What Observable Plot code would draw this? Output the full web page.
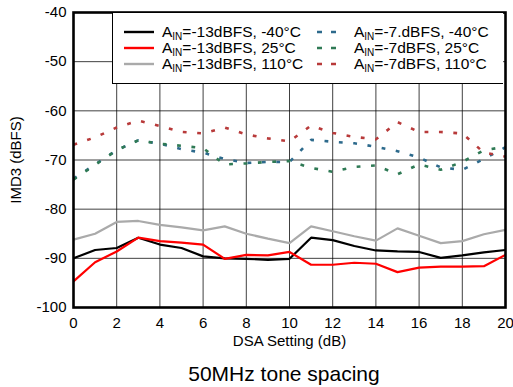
<!DOCTYPE html>
<html><head><meta charset="utf-8">
<script src="https://cdn.jsdelivr.net/npm/d3@7"></script>
<script src="https://cdn.jsdelivr.net/npm/@observablehq/plot@0.6"></script>
<style>
body{margin:0;background:#fff;font-family:"Liberation Sans",Arial,sans-serif;}
#wrap{position:relative;width:513px;height:387px;background:#fff;}
#caption{position:absolute;left:68px;width:432px;top:359px;font-size:21px;line-height:30px;text-align:center;color:#000;}
#legend{position:absolute;left:112px;top:13px;width:391px;height:71px;background:#fff;border-left:1px solid #000;border-bottom:1px solid #000;box-sizing:border-box;}
.item{position:absolute;height:18px;line-height:18px;font-size:15.5px;white-space:nowrap;color:#000;}
.item sub{font-size:10px;vertical-align:-3px;line-height:0;}
.sw{position:absolute;}
</style></head>
<body><div id="wrap"></div>
<script>
// DSA setting (dB)
const dsa = [0,1,2,3,4,5,6,7,8,9,10,11,12,13,14,15,16,17,18,19,20];
// IMD3 (dBFS)
const ain13_m40 = [-90.0,-88.3,-87.9,-85.8,-87.2,-87.9,-89.6,-90.0,-90.1,-90.3,-90.1,-85.8,-86.3,-87.5,-88.4,-88.6,-88.7,-89.9,-89.4,-88.8,-88.3];
const ain13_25  = [-94.7,-90.8,-88.6,-85.8,-86.5,-86.8,-87.2,-90.1,-89.3,-89.4,-88.7,-91.3,-91.3,-90.9,-91.1,-92.8,-91.9,-91.7,-91.7,-91.6,-89.3];
const ain13_110 = [-86.2,-85.0,-82.6,-82.4,-83.2,-83.7,-84.3,-83.5,-85.0,-86.0,-86.9,-83.5,-84.5,-85.5,-86.4,-83.9,-85.4,-86.9,-86.5,-85.1,-84.2];
const ain7_m40  = [-73.8,-70.9,-68.0,-66.0,-66.7,-67.8,-68.5,-69.8,-70.6,-70.4,-70.4,-65.9,-66.3,-66.6,-67.3,-68.2,-69.5,-71.5,-72.0,-69.8,-67.4];
const ain7_25   = [-74.0,-71.0,-68.0,-66.0,-66.7,-67.1,-67.6,-70.9,-70.7,-70.4,-70.2,-71.6,-72.4,-71.4,-71.1,-72.9,-70.9,-72.0,-70.4,-68.0,-67.3];
const ain7_110  = [-66.9,-65.4,-63.4,-62.0,-63.1,-64.3,-64.6,-63.4,-64.8,-65.6,-66.2,-63.0,-64.5,-65.3,-65.8,-62.3,-64.3,-64.3,-64.6,-68.5,-69.3];

const xTicks = [0,2,4,6,8,10,12,14,16,18,20];
const yTicks = [-100,-90,-80,-70,-60,-50,-40];

const seriesNames = ["-13dBFS, -40°C","-13dBFS, 25°C","-13dBFS, 110°C","-7.dBFS, -40°C","-7dBFS, 25°C","-7dBFS, 110°C"];
const seriesValues = [ain13_m40, ain13_25, ain13_110, ain7_m40, ain7_25, ain7_110];
const seriesColors = ["#000000","#ff0000","#aaaaaa","#2d6a8c","#2f7a55","#b83a3a"];
const seriesDashed = [false,false,false,true,true,true];

const lineMarks = seriesValues.map((vals, i) => {
  const rows = dsa.map((d, j) => ({dsa: d, v: vals[j]}));
  return Plot.line(rows, {
    x: "dsa", y: "v", stroke: seriesColors[i],
    strokeWidth: seriesDashed[i] ? 2.6 : 2.2,
    strokeDasharray: seriesDashed[i] ? "3.8,10.6" : null,
    strokeLinecap: "butt", strokeLinejoin: "miter"
  });
});

const chart = Plot.plot({
  width: 513, height: 355,
  marginTop: 12, marginLeft: 73, marginRight: 8, marginBottom: 48,
  style: {fontFamily: '"Liberation Sans", Arial, sans-serif', fontSize: "15px", color: "#000", background: "#fff", overflow: "visible"},
  x: {domain: [0, 20]},
  y: {domain: [-100, -40]},
  marks: [
    Plot.gridX(xTicks, {stroke: "#000", strokeOpacity: 0.75, strokeWidth: 1}),
    Plot.gridY(yTicks, {stroke: "#000", strokeOpacity: 0.75, strokeWidth: 1}),
    Plot.axisX(xTicks, {tickSize: 0, tickPadding: 10, tickFormat: d => String(d), fontSize: 15,
      label: "DSA Setting (dB)", labelAnchor: "center", labelOffset: 38, labelArrow: false}),
    Plot.axisY(yTicks, {tickSize: 0, tickPadding: 7, tickFormat: d => String(d), fontSize: 15,
      label: "IMD3 (dBFS)", labelAnchor: "center", labelOffset: 63, labelArrow: false}),
    ...lineMarks,
    Plot.frame({stroke: "#000", strokeWidth: 2.6})
  ]
});

const wrap = document.getElementById("wrap");
wrap.appendChild(chart);

// legend
const legend = document.createElement("div");
legend.id = "legend";
wrap.appendChild(legend);
const rowTops = [10, 26, 42];
seriesNames.forEach((name, i) => {
  const col = i < 3 ? 0 : 1;
  const row = i % 3;
  const swX = col === 0 ? 11 : 204;
  const swW = col === 0 ? 30 : 22;
  const txtX = col === 0 ? 49 : 241;
  const svgNS = "http://www.w3.org/2000/svg";
  const sw = document.createElementNS(svgNS, "svg");
  sw.setAttribute("class", "sw");
  sw.setAttribute("width", swW);
  sw.setAttribute("height", 6);
  sw.style.left = swX + "px";
  sw.style.top = (rowTops[row] + 6) + "px";
  const ln = document.createElementNS(svgNS, "line");
  ln.setAttribute("x1", 0); ln.setAttribute("x2", swW);
  ln.setAttribute("y1", 3); ln.setAttribute("y2", 3);
  ln.setAttribute("stroke", seriesColors[i]);
  ln.setAttribute("stroke-width", seriesDashed[i] ? 2.6 : 2.4);
  if (seriesDashed[i]) ln.setAttribute("stroke-dasharray", "5,9");
  sw.appendChild(ln);
  legend.appendChild(sw);
  const t = document.createElement("div");
  t.className = "item";
  t.style.left = txtX + "px";
  t.style.top = rowTops[row] + "px";
  t.innerHTML = "A<sub>IN</sub>=" + name;
  legend.appendChild(t);
});

const cap = document.createElement("div");
cap.id = "caption";
cap.textContent = "50MHz tone spacing";
wrap.appendChild(cap);
</script>
</body></html>
